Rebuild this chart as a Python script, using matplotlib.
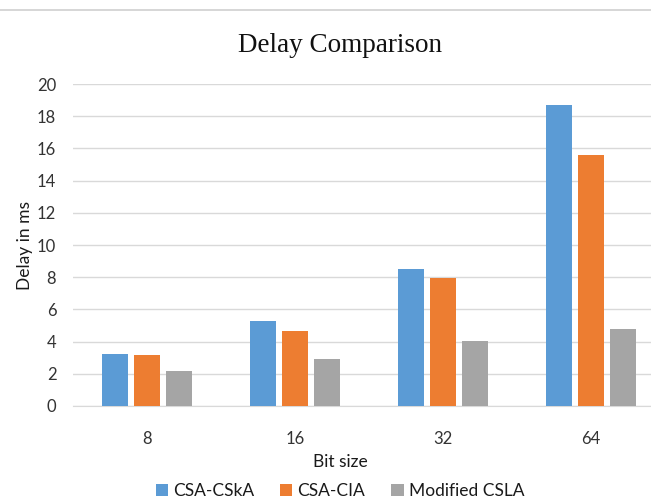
import numpy as np
import matplotlib
matplotlib.use("Agg")
import matplotlib.pyplot as plt
from matplotlib.lines import Line2D

bit_sizes = ["8", "16", "32", "64"]
csa_cska = [3.26, 5.28, 8.49, 18.68]
csa_cia = [3.18, 4.68, 7.97, 15.6]
modified_csla = [2.15, 2.94, 4.06, 4.76]
series_names = ["CSA-CSkA", "CSA-CIA", "Modified CSLA"]
colors = ["#5B9BD5", "#ED7D31", "#A5A5A5"]
yticks = np.arange(0, 21, 2)

plt.rcParams['font.family'] = ['Lato', 'DejaVu Sans']

fig = plt.figure(figsize=(6.51, 5.04), dpi=100)
ax = fig.add_axes([73 / 651, 98 / 504, 592 / 651, 322 / 504])

x = np.arange(len(bit_sizes))
w = 0.17
step = 0.216
for i, (vals, name, c) in enumerate(zip([csa_cska, csa_cia, modified_csla], series_names, colors)):
    ax.bar(x + (i - 1) * step, vals, width=w, color=c, label=name, zorder=3)

ax.set_xlim(-0.5, 3.5)
ax.set_ylim(0, 20)
ax.set_yticks(yticks)
ax.set_xticks(x)
ax.set_xticklabels(bit_sizes)
ax.grid(axis='y', color='#D9D9D9', linewidth=1, zorder=0)
for s in ['top', 'right', 'left']:
    ax.spines[s].set_visible(False)
ax.spines['bottom'].set_color('#D9D9D9')
ax.tick_params(length=0, labelsize=12, colors='#333333')
ax.tick_params(axis='y', pad=12)
ax.tick_params(axis='x', pad=18)

ax.set_ylabel("Delay in ms", fontsize=12.5, color='#1a1a1a', labelpad=3)
fig.text(340 / 651, 1 - 462 / 504, "Bit size", ha='center', va='center', fontsize=12.5, color='#1a1a1a')
fig.text(340 / 651, 1 - 45 / 504, "Delay Comparison", ha='center', va='center',
         fontsize=19.5, family='Liberation Serif', color='#111111')

fig.legend(loc='center', bbox_to_anchor=(340 / 651, 1 - 491 / 504), ncol=3, frameon=False,
           fontsize=12.5, handlelength=0.7, handleheight=0.7, handletextpad=0.3, columnspacing=1.5,
           labelcolor='#1a1a1a')

fig.add_artist(Line2D([0, 1], [1 - 9.5 / 504, 1 - 9.5 / 504], color='#D0D0D0', linewidth=1.2))

fig.savefig("out.png", dpi=100)
